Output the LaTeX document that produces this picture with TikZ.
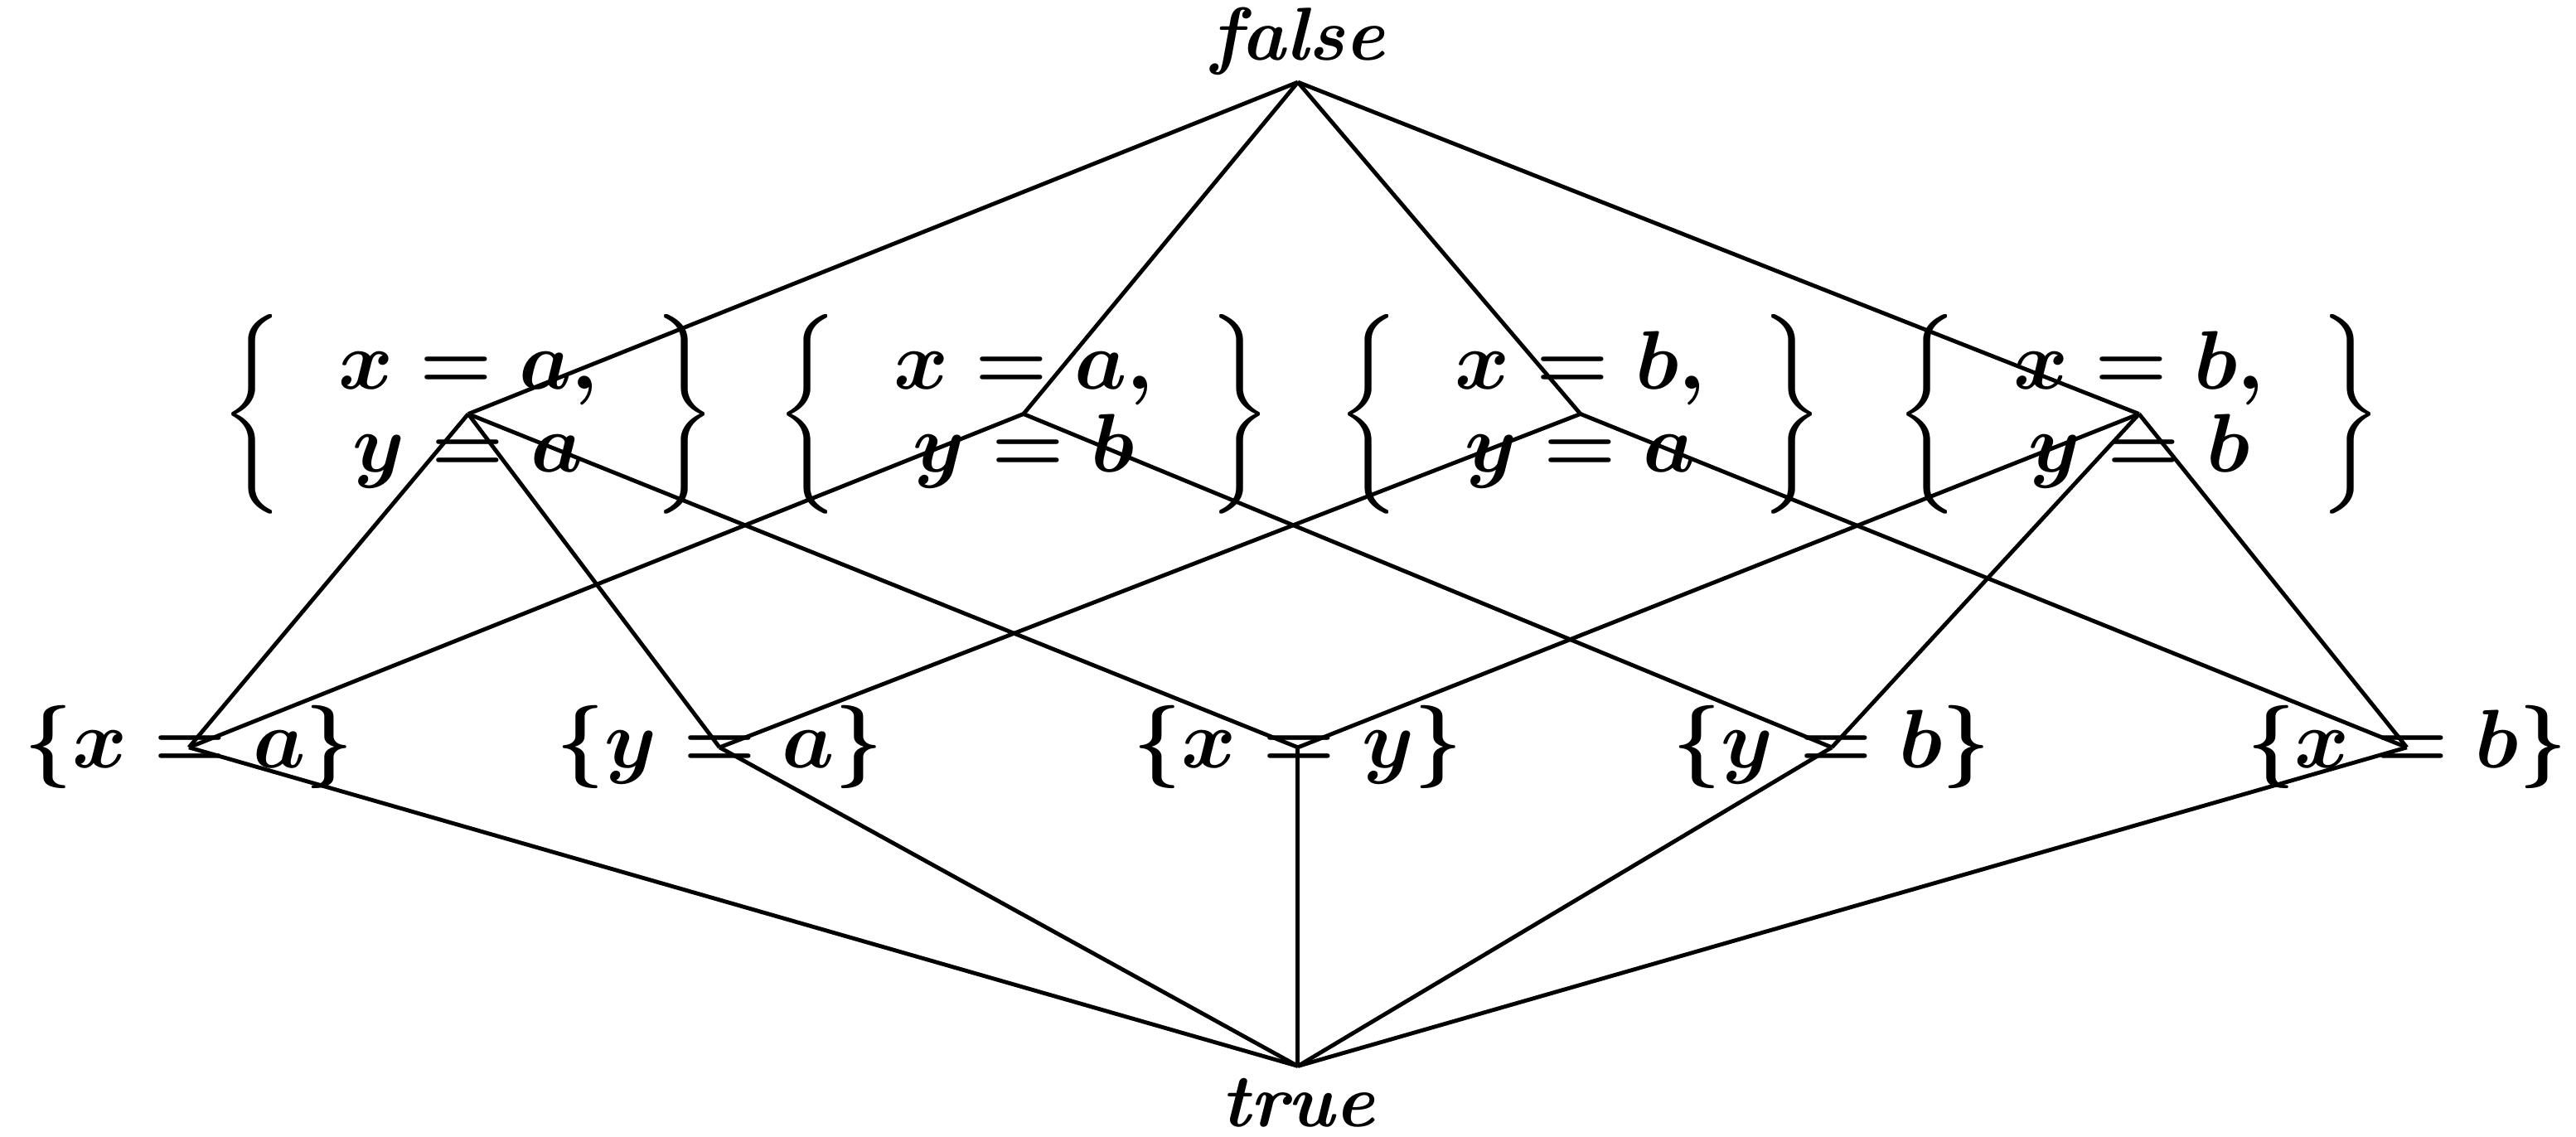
\documentclass[tikz,border=0pt]{standalone}
\usepackage{amsmath}
\usepackage{tikz}
\usetikzlibrary{positioning}

\newcommand{\pairset}[2]{$\renewcommand{\arraystretch}{0.9}\left\{\;\begin{array}{c} #1,\\ #2 \end{array}\;\right\}$}

\begin{document}
\begin{tikzpicture}[
		elem/.style={inner sep=0pt, font=\fontsize{14}{16}\selectfont\boldmath},
		truth/.style={inner sep=0pt, font=\fontsize{13}{15}\selectfont\bfseries\itshape},
		edge/.style={line width=0.7pt, draw=black},
		x=1cm, y=1cm
	]
		\useasboundingbox (0,0) rectangle (15.68,6.92);
		\coordinate (top) at (7.90,6.42);
		\coordinate (bot) at (7.90,0.43);
		\node[truth, above=1pt of top] (false) {false};
		\node[truth, below=2pt of bot] (true) {true};

		\node[elem] (xaya) at (2.85,4.40) {\pairset{x=a}{y=a}};
		\node[elem] (xayb) at (6.23,4.40) {\pairset{x=a}{y=b}};
		\node[elem] (xbya) at (9.62,4.40) {\pairset{x=b}{y=a}};
		\node[elem] (xbyb) at (13.02,4.40) {\pairset{x=b}{y=b}};

		\node[elem] (xa) at (1.15,2.37) {$\{x=a\}$};
		\node[elem] (ya) at (4.38,2.37) {$\{y=a\}$};
		\node[elem] (xy) at (7.90,2.37) {$\{x=y\}$};
		\node[elem] (yb) at (11.15,2.37) {$\{y=b\}$};
		\node[elem] (xb) at (14.65,2.37) {$\{x=b\}$};

		\foreach \a in {xaya,xayb,xbya,xbyb}
			\draw[edge] (top) -- (\a.center);
		\foreach \a/\b in {xaya/xa,xaya/ya,xaya/xy,xayb/xa,xayb/yb,xbya/ya,xbya/xb,xbyb/yb,xbyb/xb,xbyb/xy}
			\draw[edge] (\a.center) -- (\b.center);
		\foreach \b in {xa,ya,xy,yb,xb}
			\draw[edge] (\b.center) -- (bot);
	\end{tikzpicture}
\end{document}
